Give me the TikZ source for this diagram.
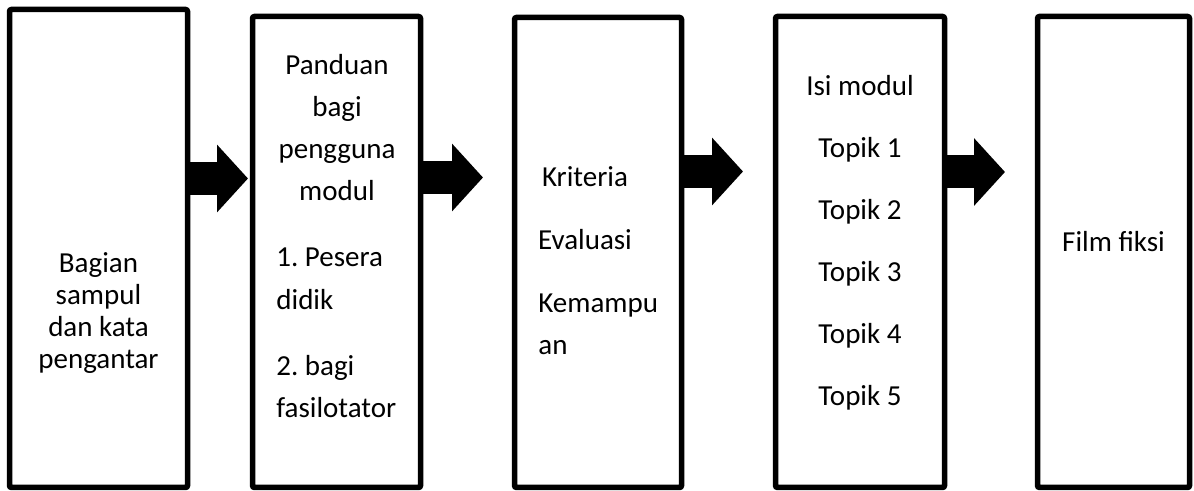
\documentclass[tikz,border=0pt]{standalone}
\usepackage{fontspec}
\setmainfont{Carlito}
\usepackage{tikz}
\usetikzlibrary{arrows.meta}
\usetikzlibrary{positioning}
\frenchspacing
\tikzstyle{part}=[draw=black, line width=2.75pt, inner sep=0pt, rounded corners=1pt]
\tikzstyle{fatarrow}=[line width=16.5pt, -{Triangle[length=15.5pt, width=33pt]}]
\tikzstyle{words}=[inner sep=0pt, anchor=base, font=\fontsize{14.5}{21}\selectfont]

\begin{document}
\begin{tikzpicture}[x=0.5pt, y=-0.5pt]
\useasboundingbox (0,0) rectangle (1194,491);
\node[part, minimum width=89pt, minimum height=239pt] (part1) at (98.5,248.5){};
\node[part, minimum width=84pt, minimum height=235.5pt] (part2) at (336.5,252){};
\node[part, minimum width=83.5pt, minimum height=235pt] (part3) at (598,252.5){};
\node[part, minimum width=84.5pt, minimum height=235.5pt] (part4) at (860,252){};
\node[part, minimum width=76pt, minimum height=235.5pt] (part5) at (1113.5,252){};
% multi-line texts are placed by the baseline of their last line
\node[words, align=center, font=\fontsize{14.5}{16}\selectfont] (cover) at (98.5,369){Bagian\\sampul\\dan kata\\pengantar};
\node[words, align=center] (guide) at (337,201){Panduan\\bagi\\pengguna\\modul};
\node[words, align=left, anchor=base west] (users) at (276,418){1. Pesera\\didik\\[12.5pt]2. bagi\\fasilotator};
\node[words, align=center] (criteria) at (585,250){Kriteria\\[10.5pt]Evaluasi};
\node[words, align=left, anchor=base west] (ability) at (538,355){Kemampu\\an};
\node[words, align=center] (content) at (860,406){Isi modul\\[10pt]Topik 1\\[10pt]Topik 2\\[10pt]Topik 3\\[10pt]Topik 4\\[10pt]Topik 5};
\node[words] (film) at (1113.5,252){Film fiksi};
\coordinate (tip1) at (248,178.5);
\coordinate (tip2) at (483,177.5);
\coordinate (tip3) at (743,171.5);
\coordinate (tip4) at (1005,172);
\draw[fatarrow](part1.east |- tip1) -- (tip1);
\draw[fatarrow](part2.east |- tip2) -- (tip2);
\draw[fatarrow](part3.east |- tip3) -- (tip3);
\draw[fatarrow](part4.east |- tip4) -- (tip4);
\end{tikzpicture}
\end{document}
